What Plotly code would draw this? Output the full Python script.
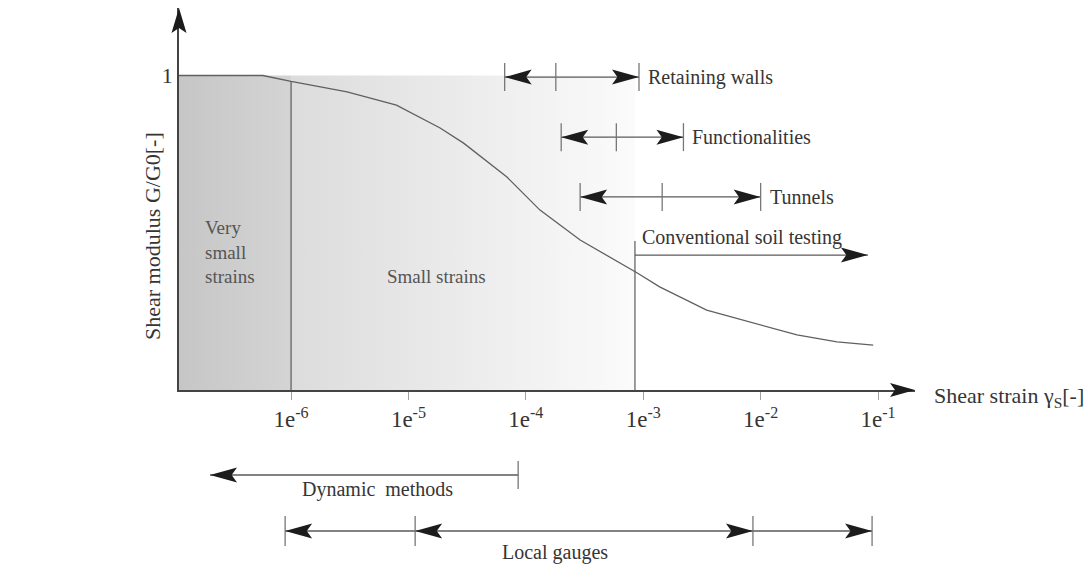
import numpy as np
import plotly.graph_objects as go

# ---------------- data ----------------
curve_strain = [1.11e-7, 5.75e-7, 1e-6, 3.0e-6, 7.9e-6, 1.86e-5, 2.95e-5, 6.9e-5,
                1.32e-4, 2.9e-4, 8.9e-4, 1.38e-3, 3.47e-3, 8.7e-3, 2.04e-2, 4.47e-2, 9.1e-2]
curve_g = [1.0, 1.0, 0.981, 0.948, 0.906, 0.833, 0.785, 0.677,
           0.572, 0.477, 0.372, 0.328, 0.254, 0.213, 0.175, 0.153, 0.143]

tick_vals = [1e-6, 1e-5, 1e-4, 1e-3, 1e-2, 1e-1]
tick_text = ["1e<sup>-6</sup>", "1e<sup>-5</sup>", "1e<sup>-4</sup>",
             "1e<sup>-3</sup>", "1e<sup>-2</sup>", "1e<sup>-1</sup>"]

region_bounds = [1.11e-7, 1e-6, 8.5e-4]
region_labels = ["Very<br>small<br>strains", "Small strains"]
region_label_x = [1.78e-7, 1.72e-5]
region_label_y = [0.44, 0.362]

app_names = ["Retaining walls", "Functionalities", "Tunnels"]
app_lo = [6.6e-5, 2.0e-4, 2.9e-4]
app_mid = [1.8e-4, 5.9e-4, 1.45e-3]
app_hi = [9.2e-4, 2.2e-3, 1.0e-2]

conv_name = "Conventional soil testing"
conv_start = 8.5e-4
conv_end = 8.2e-2

dyn_name = "Dynamic\u00a0 methods"
dyn_bar = 8.6e-5
dyn_tip = 2.04e-7
dyn_label_x = 5.4e-6

gauge_name = "Local gauges"
gauge_bounds = [8.9e-7, 1.14e-5, 8.6e-3, 8.9e-2]
gauge_label_x = 1.77e-4

# ---------------- layout constants ----------------
W, H = 1088, 586
ML, MR, MT, MB = 179, 173, 8, 0
X_RANGE = [np.log10(region_bounds[0]), -0.685]
PX_PER_UNIT = 314.5
MAIN_H = 382
Y_RANGE = [0, MAIN_H / PX_PER_UNIT]
SPLIT = (H - MT - MB - MAIN_H) / (H - MT - MB)
BOT_H = H - MT - MB - MAIN_H

FONT = "Liberation Serif"
TXT = "#353535"
LINE = "#5a5a5a"
BAR = "#777777"
HEAD = "#1c1c1c"

row_y = [0.995, 0.804, 0.614]
conv_y = 0.429
bar_half = 14 / PX_PER_UNIT
dyn_y = -85
gauge_y = -141

fig = go.Figure()

# shaded strain regions
fig.add_trace(go.Scatter(
    x=[region_bounds[0], region_bounds[1], region_bounds[1], region_bounds[0], region_bounds[0]],
    y=[0, 0, 1, 1, 0], mode="lines", line=dict(width=0), fill="toself",
    fillgradient=dict(type="horizontal", colorscale=[[0, "#c6c6c6"], [1, "#d4d4d4"]]),
    hoverinfo="skip", showlegend=False))
fig.add_trace(go.Scatter(
    x=[region_bounds[1], region_bounds[2], region_bounds[2], region_bounds[1], region_bounds[1]],
    y=[0, 0, 1, 1, 0], mode="lines", line=dict(width=0), fill="toself",
    fillgradient=dict(type="horizontal", colorscale=[[0, "#dcdcdc"], [1, "#fbfbfb"]]),
    hoverinfo="skip", showlegend=False))

# curve
fig.add_trace(go.Scatter(x=curve_strain, y=curve_g, mode="lines",
                         line=dict(color="#606060", width=1.3, shape="linear"),
                         hoverinfo="skip", showlegend=False))

# region boundary lines
g_at_b1 = float(np.interp(np.log10(region_bounds[1]), np.log10(curve_strain), curve_g))
fig.add_trace(go.Scatter(
    x=[region_bounds[1], region_bounds[1], None, conv_start, conv_start],
    y=[0, g_at_b1, None, 0, conv_y + bar_half],
    mode="lines", line=dict(color=LINE, width=1.2), hoverinfo="skip", showlegend=False))

# application ranges (shafts + bars)
sx, sy, bx, by = [], [], [], []
for lo, mid, hi, yv in zip(app_lo, app_mid, app_hi, row_y):
    sx += [lo, hi, None]
    sy += [yv, yv, None]
    for v in (lo, mid, hi):
        bx += [v, v, None]
        by += [yv - bar_half, yv + bar_half, None]
sx += [conv_start, conv_end, None]
sy += [conv_y, conv_y, None]
fig.add_trace(go.Scatter(x=sx, y=sy, mode="lines", line=dict(color=LINE, width=1.3),
                         hoverinfo="skip", showlegend=False))
fig.add_trace(go.Scatter(x=bx, y=by, mode="lines", line=dict(color=BAR, width=1.3),
                         hoverinfo="skip", showlegend=False))

# bottom methods (subplot 2, y in pixel offsets)
bsx = [dyn_tip, dyn_bar, None, gauge_bounds[0], gauge_bounds[-1], None]
bsy = [dyn_y, dyn_y, None, gauge_y, gauge_y, None]
bbx, bby = [dyn_bar, dyn_bar, None], [dyn_y - 14, dyn_y + 14, None]
for v in gauge_bounds:
    bbx += [v, v, None]
    bby += [gauge_y - 15, gauge_y + 15, None]
fig.add_trace(go.Scatter(x=bsx, y=bsy, xaxis="x2", yaxis="y2", mode="lines",
                         line=dict(color=LINE, width=1.3), hoverinfo="skip", showlegend=False))
fig.add_trace(go.Scatter(x=bbx, y=bby, xaxis="x2", yaxis="y2", mode="lines",
                         line=dict(color=BAR, width=1.3), hoverinfo="skip", showlegend=False))


def head(xref, yref, x, y, direction, length=27, half=7.5, notch=0.8):
    if direction == "right":
        pts = [(0, 0), (-length, half), (-length * notch, 0), (-length, -half)]
    elif direction == "left":
        pts = [(0, 0), (length, half), (length * notch, 0), (length, -half)]
    else:  # up
        pts = [(0, 0), (half, -length), (0, -length * notch), (-half, -length)]
    path = "M" + "L".join(f"{a:.2f},{b:.2f}" for a, b in pts) + "Z"
    return dict(type="path", xref=xref, yref=yref, xsizemode="pixel", ysizemode="pixel",
                xanchor=x, yanchor=y, path=path, fillcolor=HEAD, line=dict(width=0),
                layer="above")


shapes = []
for lo, hi, yv in zip(app_lo, app_hi, row_y):
    shapes.append(head("x", "y", lo, yv, "left"))
    shapes.append(head("x", "y", hi, yv, "right"))
shapes.append(head("x", "y", conv_end, conv_y, "right"))
shapes.append(head("x2", "y2", dyn_tip, dyn_y, "left"))
shapes.append(head("x2", "y2", gauge_bounds[0], gauge_y, "left"))
shapes.append(head("x2", "y2", gauge_bounds[1], gauge_y, "left"))
shapes.append(head("x2", "y2", gauge_bounds[2], gauge_y, "right"))
shapes.append(head("x2", "y2", gauge_bounds[3], gauge_y, "right"))
# axis arrows
shapes.append(head("paper", "paper", 0, 1, "up", length=25, half=7.5))
shapes.append(head("paper", "paper", 1, SPLIT, "right", length=25, half=7))

annotations = []
for name, hi, yv in zip(app_names, app_hi, row_y):
    annotations.append(dict(x=np.log10(hi), y=yv, xref="x", yref="y", text=name,
                            showarrow=False, xanchor="left", yanchor="middle", xshift=7,
                            font=dict(family=FONT, size=20, color=TXT)))
annotations.append(dict(x=np.log10(conv_start), y=conv_y, xref="x", yref="y", text=conv_name,
                        showarrow=False, xanchor="left", yanchor="middle", xshift=5, yshift=18,
                        font=dict(family=FONT, size=20, color=TXT)))
for lab, lx, ly in zip(region_labels, region_label_x, region_label_y):
    annotations.append(dict(x=np.log10(lx), y=ly, xref="x", yref="y", text=lab,
                            showarrow=False, xanchor="left" if "<br>" in lab else "center",
                            yanchor="middle", align="left",
                            font=dict(family=FONT, size=19, color="#555555")))
annotations.append(dict(x=np.log10(dyn_label_x), y=dyn_y, xref="x2", yref="y2", text=dyn_name,
                        showarrow=False, xanchor="center", yanchor="middle", yshift=-14,
                        font=dict(family=FONT, size=20, color=TXT)))
annotations.append(dict(x=np.log10(gauge_label_x), y=gauge_y, xref="x2", yref="y2", text=gauge_name,
                        showarrow=False, xanchor="center", yanchor="middle", yshift=-21,
                        font=dict(family=FONT, size=20, color=TXT)))
annotations.append(dict(x=(152 - ML) / (W - ML - MR), y=(H - MB - 236) / (H - MT - MB),
                        xref="paper", yref="paper", text="Shear modulus G/G0[-]", textangle=-90,
                        showarrow=False, xanchor="center", yanchor="middle",
                        font=dict(family=FONT, size=22, color=TXT)))
annotations.append(dict(x=(932 - ML) / (W - ML - MR), y=SPLIT - 7 / (H - MT - MB),
                        xref="paper", yref="paper", text="Shear strain \u03b3<sub>S</sub>[-]",
                        showarrow=False, xanchor="left", yanchor="middle",
                        font=dict(family=FONT, size=22, color=TXT)))

fig.update_layout(
    width=W, height=H, margin=dict(l=ML, r=MR, t=MT, b=MB),
    paper_bgcolor="white", plot_bgcolor="rgba(0,0,0,0)", hovermode=False,
    showlegend=False, shapes=shapes, annotations=annotations,
    xaxis=dict(type="log", range=X_RANGE, domain=[0, 1], anchor="y",
               showline=True, linecolor="#444444", linewidth=1.5, showgrid=False, zeroline=False,
               tickvals=tick_vals, ticktext=tick_text, ticks="outside", ticklen=8,
               tickcolor="#a0a0a0", tickwidth=1,
               tickfont=dict(family=FONT, size=23, color=TXT)),
    yaxis=dict(range=Y_RANGE, domain=[SPLIT, 1], anchor="x",
               showline=True, linecolor="#444444", linewidth=1.5, showgrid=False, zeroline=False,
               tickvals=[1], ticktext=["1"], ticks="",
               tickfont=dict(family=FONT, size=22, color=TXT)),
    xaxis2=dict(type="log", range=X_RANGE, domain=[0, 1], anchor="y2", matches="x",
                visible=False),
    yaxis2=dict(range=[-BOT_H, 0], domain=[0, SPLIT], anchor="x2", visible=False),
)

fig.write_html("out.html")
